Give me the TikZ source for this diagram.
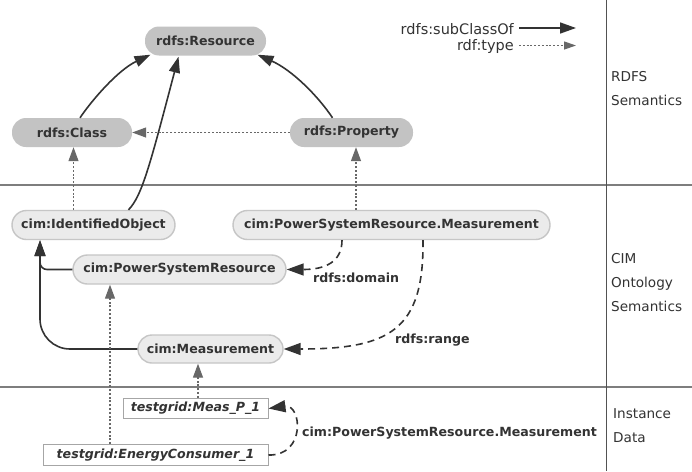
\documentclass[tikz,border=0pt]{standalone}
\usepackage{fontspec}
\setmainfont{DejaVu Sans}
\usetikzlibrary{arrows.meta,calc}

\definecolor{ink}{HTML}{333333}
\definecolor{rdfsfill}{HTML}{C3C3C3}
\definecolor{cimfill}{HTML}{EBEBEB}
\definecolor{cimedge}{HTML}{C6C6C6}
\definecolor{typegray}{HTML}{686868}
\definecolor{rulegray}{HTML}{7E7E7E}
\definecolor{boxedge}{HTML}{A6A6A6}

\tikzset{
  nodefont/.style={font=\fontsize{12.6}{15}\selectfont\bfseries, text=ink},
  rdfsnode/.style={nodefont, shape=rectangle, fill=rdfsfill, rounded corners=14pt,
    minimum height=29pt, inner sep=0pt},
  cimnode/.style={nodefont, shape=rectangle, fill=cimfill, draw=cimedge, line width=1.4pt,
    rounded corners=14.5pt, minimum height=29pt, inner sep=0pt},
  instnode/.style={font=\fontsize{12.6}{15}\selectfont\bfseries\itshape, text=ink,
    shape=rectangle, fill=white, draw=boxedge, line width=1pt,
    minimum height=20.5pt, inner sep=0pt},
  edgelabel/.style={nodefont, inner sep=0pt, anchor=base west},
  legendtext/.style={font=\fontsize{14.5}{17}\selectfont, text=ink, inner sep=0pt, anchor=base east},
  layertext/.style={font=\fontsize{13.6}{24}\selectfont, text=ink, inner sep=0pt,
    anchor=north west, align=left},
  subclass/.style={draw=ink, line width=1.6pt, -{Triangle[length=16pt,width=11pt]}},
  rdftype/.style={draw=typegray, line width=1.2pt, dash pattern=on 2pt off 1.8pt,
    -{Triangle[length=14pt,width=10pt]}},
  rdfsprop/.style={draw=ink, line width=1.6pt, dash pattern=on 7pt off 5pt,
    -{Triangle[length=17pt,width=12pt]}},
  layerrule/.style={draw=rulegray, line width=1.4pt},
  siderule/.style={draw=ink!85, line width=1pt}
}

\begin{document}
\begin{tikzpicture}[x=1pt,y=-1pt]
\useasboundingbox[fill=white] (0,0) rectangle (692,471);

% layer separators
\draw[layerrule] (0,185) -- (692,185);
\draw[layerrule] (0,387) -- (692,387);
\draw[siderule] (606,0) -- (606,471);

% layer names
\node[layertext] (lrdfs) at (611,71.5) {RDFS\\Semantics};
\node[layertext] (lcim) at (611,253.3) {CIM\\Ontology\\Semantics};
\node[layertext] (linst) at (613,408) {Instance\\Data};

% legend
\node[legendtext] (lsub) at (514,34) {rdfs:subClassOf};
\node[legendtext] (ltype) at (514,50.7) {rdf:type};
\coordinate (subEnd) at (576,28);
\coordinate (typeEnd) at (576,45.5);
\draw[subclass] ($(lsub.base east)+(5,-6)$) -- (subEnd);
\draw[rdftype, -{Triangle[length=12pt,width=8pt]}] ($(ltype.base east)+(5,-5.2)$) -- (typeEnd);

% RDFS vocabulary
\node[rdfsnode, minimum width=121pt] (res) at (205.5,41) {rdfs:Resource};
\node[rdfsnode, minimum width=120pt] (cls) at (72,132.5) {rdfs:Class};
\node[rdfsnode, minimum width=123pt] (prop) at (351.5,132.5) {rdfs:Property};

% CIM ontology
\node[cimnode, minimum width=163pt] (io) at (93.5,225) {cim:IdentifiedObject};
\node[cimnode, minimum width=317pt] (psrm) at (391.5,225) {cim:PowerSystemResource.Measurement};
\node[cimnode, minimum width=213pt] (psr) at (179.5,269.5) {cim:PowerSystemResource};
\node[cimnode, minimum width=145pt, minimum height=28pt, rounded corners=14pt] (meas) at (210.5,349) {cim:Measurement};

% instance data
\node[instnode, minimum width=145pt] (mp) at (195.5,408.5) {testgrid:Meas\_P\_1};
\node[instnode, minimum width=225pt] (ec) at (155.5,455) {testgrid:EnergyConsumer\_1};

% subclass relations
\draw[subclass] ($(cls.north)+(8,0)$) .. controls (92,100) and (118,70) .. ($(res.south)+(-55,-1)$);
\draw[subclass] ($(io.north)+(35,0)$) .. controls (142,196) and (150,165) .. ($(res.south)+(-27,1)$);
\draw[subclass] ($(prop.north)+(-19,0)$) .. controls (318,96) and (292,70) .. ($(res.south)+(52,-1)$);
\draw[subclass, rounded corners=7pt] (psr.west) -| ($(io.south)+(-53.5,0)$);
\draw[subclass, rounded corners=30pt] (meas.west) -| ($(io.south)+(-53.5,0)$);

% type relations
\draw[rdftype] (prop.west) -- (cls.east);
\draw[rdftype] ($(io.north)+(-20,0)$) -- ($(cls.south)+(1.5,0)$);
\draw[rdftype] ($(psrm.north)+(-35.5,0)$) -- ($(prop.south)+(4.5,0)$);
\draw[rdftype] ($(mp.north)+(2.5,0)$) -- ($(meas.south)+(-12.5,0)$);
\draw[rdftype] ($(ec.north)+(-45.5,0)$) -- ($(psr.south)+(-69.5,0)$);

% domain and range
\draw[rdfsprop] ($(psrm.south)+(-49.5,0)$) .. controls (342,262) and (325,269.5) .. (psr.east);
\node[edgelabel] (ldom) at (313,282) {rdfs:domain};
\draw[rdfsprop] ($(psrm.south)+(31.5,0)$) .. controls (424,330) and (390,349) .. (meas.east);
\node[edgelabel] (lrng) at (395,343) {rdfs:range};

% instance property
\draw[rdfsprop] (ec.east) .. controls (306,456) and (302,404) .. (mp.east);
\node[edgelabel] (lprop) at (302,436) {cim:PowerSystemResource.Measurement};
\end{tikzpicture}
\end{document}
